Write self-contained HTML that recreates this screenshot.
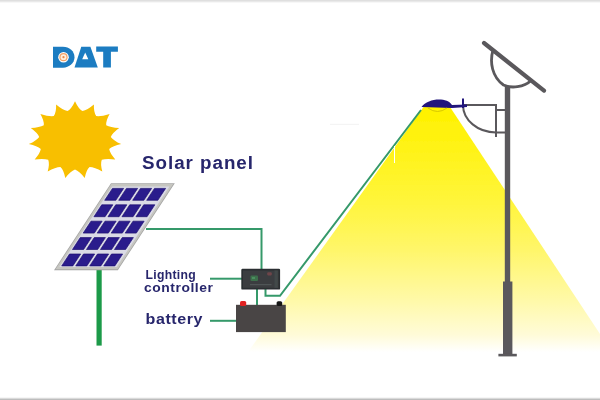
<!DOCTYPE html>
<html><head><meta charset="utf-8">
<style>
html,body{margin:0;padding:0;background:#fff;}
body{width:600px;height:400px;overflow:hidden;position:relative;font-family:"Liberation Sans",sans-serif;}
svg{position:absolute;left:0;top:0;}
</style></head>
<body>
<svg width="600" height="400" viewBox="0 0 600 400">
<defs>
<linearGradient id="cone" x1="0" y1="107" x2="0" y2="352" gradientUnits="userSpaceOnUse">
<stop offset="0" stop-color="#fff200"/>
<stop offset="0.094" stop-color="#fff20a"/>
<stop offset="0.38" stop-color="#fff53a"/>
<stop offset="0.584" stop-color="#fff66a"/>
<stop offset="0.788" stop-color="#fff9a8"/>
<stop offset="0.93" stop-color="#fffbd8"/>
<stop offset="1" stop-color="#ffffff"/>
</linearGradient>
<filter id="soft" x="-5%" y="-5%" width="110%" height="110%"><feGaussianBlur stdDeviation="0.38"/></filter>
</defs>
<rect x="0" y="0" width="600" height="1" fill="#dfdfdf"/><rect x="0" y="1" width="600" height="1" fill="#e9e9e9"/><rect x="0" y="2" width="600" height="1" fill="#f7f7f7"/>
<rect x="0" y="397" width="600" height="1" fill="#f6f6f6"/><rect x="0" y="398" width="600" height="1" fill="#dadada"/><rect x="0" y="399" width="600" height="1" fill="#bdbdbd"/>

<g filter="url(#soft)">
<!-- light cone -->
<polygon points="423.5,107 450,107 600,334 600,352 248,352" fill="url(#cone)"/>

<!-- logo -->
<g fill="#1a7cc1">
<path d="M53,46.7 H63 A11.5,10.5 0 0 1 63,67.7 H53 Z"/>
<path d="M81.3,46.8 H90.4 L97.8,67.6 H74.5 Z"/>
<path d="M96.2,46.6 H117.9 V51.8 H110.9 V67.6 H103.2 V51.8 H96.2 Z"/>
</g>
<path d="M85.2,52.6 L88.3,59.2 H82.2 Z" fill="#fff"/>
<circle cx="63.5" cy="57.2" r="5.3" fill="#fff"/>
<circle cx="63.5" cy="57.2" r="4.1" fill="#f2a268"/>
<circle cx="63.5" cy="57.2" r="2.9" fill="#fdeedd"/>
<circle cx="63.5" cy="57.2" r="1.1" fill="#e8894a"/>

<!-- sun -->
<path fill="#f8bf00" d="M75.0,101.2 Q78.5,108.8 82.5,111.1 Q87.2,110.3 93.9,104.6 Q93.6,112.5 96.2,116.1 Q100.9,116.8 109.6,114.0 Q105.7,121.0 106.2,125.2 Q110.3,127.5 119.2,128.0 Q112.5,132.9 110.8,136.9 Q113.4,140.5 121.2,144.1 Q112.7,146.2 109.2,149.1 Q109.8,153.3 115.3,159.4 Q106.3,158.3 101.8,159.7 Q100.2,163.8 102.3,171.4 Q94.5,167.1 89.6,166.9 Q86.2,170.0 84.7,178.0 Q79.5,171.2 75.0,169.5 Q70.5,171.2 65.3,178.0 Q63.8,170.0 60.4,166.9 Q55.5,167.1 47.7,171.4 Q49.8,163.8 48.2,159.7 Q43.7,158.3 34.7,159.4 Q40.2,153.3 40.8,149.1 Q37.3,146.2 28.8,144.1 Q36.6,140.5 39.2,136.9 Q37.5,132.9 30.8,128.0 Q39.7,127.5 43.8,125.2 Q44.3,121.0 40.4,114.0 Q49.1,116.8 53.8,116.1 Q56.4,112.5 56.1,104.6 Q62.8,110.3 67.5,111.1 Q71.5,108.8 75.0,101.2Z"/>

<!-- green wires -->
<g stroke="#36996a" stroke-width="2" fill="none">
<polyline points="146,229 261.5,229 261.5,269"/>
<line x1="210" y1="278.7" x2="242" y2="278.7"/>
<line x1="210" y1="320.8" x2="236" y2="320.8"/>
<line x1="257" y1="289" x2="257" y2="305"/>
<polyline points="265.5,289 265.5,295.8 280,295.8 421,110"/>
</g>
<rect x="96.5" y="268" width="5.2" height="77.6" fill="#1f9a48"/>

<!-- solar panel -->
<g transform="matrix(1,0,-0.655,1,111,183.2)">
<rect x="0" y="0" width="63.8" height="87" fill="#a4a4a4"/>
<rect x="0.9" y="0.9" width="62" height="85.2" fill="#c6c6c0"/>
<rect x="3.2" y="3.2" width="57.4" height="80.6" fill="#dadae6"/>
<g fill="#2a1a8c" stroke="#1e1270" stroke-width="0.6"><rect x="4.9" y="5.2" width="11.1" height="11.9"/><rect x="18.9" y="5.2" width="11.1" height="11.9"/><rect x="32.9" y="5.2" width="11.1" height="11.9"/><rect x="46.9" y="5.2" width="11.1" height="11.9"/><rect x="4.9" y="21.6" width="11.1" height="11.9"/><rect x="18.9" y="21.6" width="11.1" height="11.9"/><rect x="32.9" y="21.6" width="11.1" height="11.9"/><rect x="46.9" y="21.6" width="11.1" height="11.9"/><rect x="4.9" y="38.0" width="11.1" height="11.9"/><rect x="18.9" y="38.0" width="11.1" height="11.9"/><rect x="32.9" y="38.0" width="11.1" height="11.9"/><rect x="46.9" y="38.0" width="11.1" height="11.9"/><rect x="4.9" y="54.4" width="11.1" height="11.9"/><rect x="18.9" y="54.4" width="11.1" height="11.9"/><rect x="32.9" y="54.4" width="11.1" height="11.9"/><rect x="46.9" y="54.4" width="11.1" height="11.9"/><rect x="4.9" y="70.8" width="11.1" height="11.9"/><rect x="18.9" y="70.8" width="11.1" height="11.9"/><rect x="32.9" y="70.8" width="11.1" height="11.9"/><rect x="46.9" y="70.8" width="11.1" height="11.9"/></g>
</g>

<!-- texts -->
<g font-family="Liberation Sans, sans-serif" font-weight="bold" fill="#28266c">
<text x="142" y="168.7" font-size="18.8" textLength="111" lengthAdjust="spacing">Solar panel</text>
<text x="145.5" y="279" font-size="12.1" letter-spacing="0.3" textLength="50.5" lengthAdjust="spacingAndGlyphs">Lighting</text>
<text x="144" y="292.4" font-size="12.5" letter-spacing="0.5" textLength="69.5" lengthAdjust="spacingAndGlyphs">controller</text>
<text x="145.6" y="323.8" font-size="14" letter-spacing="0.5" textLength="57.5" lengthAdjust="spacingAndGlyphs">battery</text>
</g>
<!-- controller -->
<rect x="241.3" y="268.8" width="38.8" height="20.8" rx="1.2" fill="#2c2f31"/>
<rect x="243" y="270.5" width="35.4" height="17.4" fill="#3a3e40"/>
<rect x="274.5" y="270.5" width="3.2" height="17.4" fill="#43484a"/>
<rect x="250.5" y="275.5" width="7.5" height="5.5" rx="1" fill="#3c6f4c"/>
<rect x="252" y="277" width="3" height="2" fill="#4c9060"/>
<rect x="267.2" y="272.3" width="4.6" height="3.2" rx="1" fill="#6e4448"/>
<rect x="250" y="284.2" width="21.5" height="1" fill="#555b5c"/>

<!-- battery -->
<rect x="236" y="304.8" width="49.8" height="27.3" fill="#4a4545"/>
<rect x="240" y="301" width="6.2" height="5" rx="1.6" fill="#e02222"/>
<rect x="276.6" y="301.2" width="5.6" height="4.8" rx="1.6" fill="#141414"/>

<!-- pole and bracket -->
<g fill="#5a585b">
<rect x="504.8" y="86" width="5.4" height="200"/>
<rect x="503" y="281.5" width="9.4" height="73"/>
<rect x="498.4" y="353.8" width="18.4" height="2.6"/>
</g>
<g stroke="#5a585b" fill="none" stroke-width="2">
<line x1="463" y1="105" x2="496" y2="105"/>
<line x1="496" y1="104" x2="496" y2="137"/>
<line x1="496" y1="110" x2="505" y2="110"/>
<path d="M463,105 A33,27.4 0 0 0 496,132.4 H505"/>
</g>
<line x1="484" y1="43" x2="544" y2="90.6" stroke="#5a585b" stroke-width="4.2" stroke-linecap="round"/>
<path d="M493,50 C489.5,62 492,77 503.5,85 C511,88.5 524,87.5 531,80.5" stroke="#5a585b" stroke-width="2.8" fill="none"/>

<!-- lamp head -->
<path d="M421.5,107 C428,98 447,97 452,105 L467,104.5 V107 L452,108 Z" fill="#24137c"/>
<line x1="463" y1="98.5" x2="463" y2="108" stroke="#24137c" stroke-width="2"/>
<path d="M428,108 Q437.5,115 447,108" stroke="#d8c800" stroke-width="1" fill="none"/>
<line x1="394.5" y1="146" x2="394.5" y2="163" stroke="#ffffff" stroke-width="1"/>
<line x1="330" y1="124.3" x2="359" y2="124.3" stroke="#f2f2f2" stroke-width="1"/>
</g>
</svg>
</body></html>
